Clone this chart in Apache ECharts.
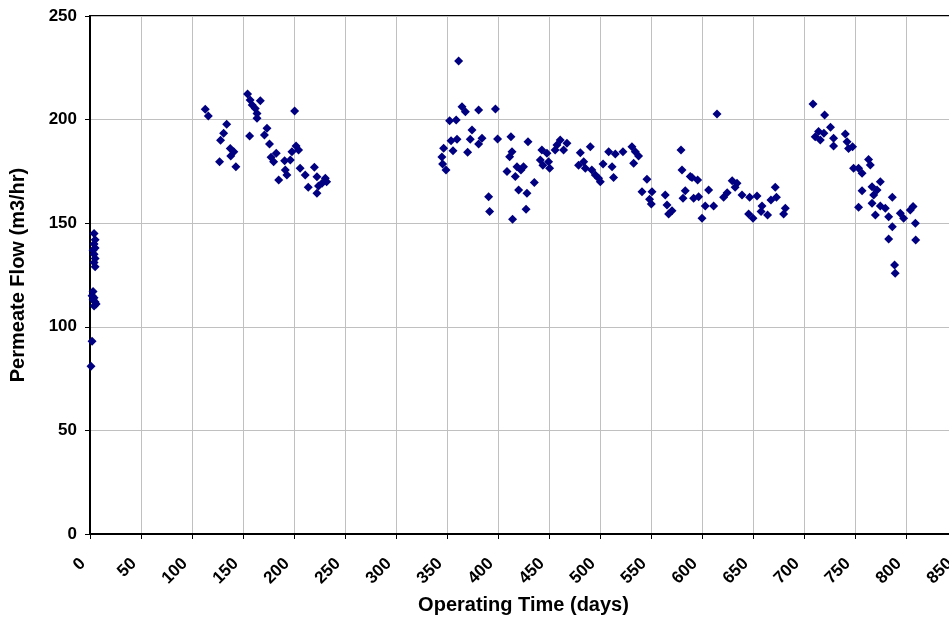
<!DOCTYPE html>
<html>
<head>
<meta charset="utf-8">
<script src="https://cdn.jsdelivr.net/npm/echarts@6/dist/echarts.min.js"></script>
<style>html,body{margin:0;padding:0;background:#fff;}#c{width:949px;height:621px;}</style>
</head>
<body>
<div id="c"></div>
<script>
// Operating time (days) and permeate flow (m3/hr) pairs, grouped by operating period
const period1Days = [4,5,4,5,3,4,5,4,5,3,2,4,3,5,6,4,2,1];
const period1Flow = [145,142,140,138,137,135,133,131,129,117,115,114,113,112,111,110,93,81];

const period2Days = [113,116,134,131,128,137.5,141,138,127,143,154.5,157,167,159,162,163.7,163.7,200.6,156.5,173.5,171,176,182.6,177.5,180,190.8,202,204.5,198,196.4,191.5,193,185,206,211,220,222.5,230.7,227.5,214,222.5,232,224];
const period2Flow = [205,201.7,197.7,193.4,190,186,184.5,182.4,179.7,177.3,212.4,209.5,209.1,207,205.4,203,200.6,204.1,192.1,195.8,192.6,188.2,183.7,181.8,179.7,180.2,187.3,185.3,184.5,180.5,175.7,173.3,170.8,176.5,173.3,177,172.4,171.7,169.3,167.3,164.4,170,168];

const period3Days = [361.4,364.7,368,381,352.6,359,374.5,372.8,359.8,354,346.7,355.9,370.2,381,345,345.7,349,384.3,390.8,391.8,397.5,399.6,412.7,429.4,413.7,411.4,408.8,418.6,422.5,425,417,420.2,428.4,435.6,427.5,414.3,443,448,441.5,444,450.6,449.6,457.8,461,464.3,456,467.6,480.7,490.5,484,479,485.6,492,495.4,498.6,500.3,503,511.8,513.3,508.5,515,522.5,531.3,534.6,537.8,533,546,541.2,551,548.6,550.3,564,565.7,570.6,567.3,579.4,580.4,588.5,595.7,583.6,581.4,591.8,596.7,603.2,600,606.5,614.7,590.2,611.4,621.2,624.7,629.6,634.3,632.5,639.2,646.7,653.9,645.7,650,658.8,657.9,664.3,667.6,673,671.8,681.7,680];
const period3Flow = [228.3,206.2,203.8,204.6,199.5,199.8,195,190.5,190.5,189.8,186.2,185,184.2,188.2,182,178.6,175.7,191,162.8,155.6,205.1,190.6,191.7,189.3,184.5,182.1,174.9,177.3,175.7,177.3,172.5,166,164.4,169.6,156.7,151.9,185.3,183.7,180.5,178,176.5,179.7,187.7,190.2,185.3,185.3,188.6,184,186.9,179.7,178,176.5,175.7,173.3,171.7,170,178.6,177.3,172.1,184.5,183.4,184.5,186.9,184.5,182.4,178.9,171.2,165.2,165.2,161.5,159.3,163.6,158.8,156,154.4,185.3,175.7,172.5,170.8,165.7,162,162,162.8,158.3,152.4,166,202.7,172.1,158.3,162.5,164.7,170.5,169.3,167.3,163.6,162.5,163.1,154.4,152.4,158.3,155.6,154,161.2,162.5,167.3,157.2,154.4];

const period4Days = [708.8,720.2,714.3,711,716,719.5,726,729,729,740.5,742.2,743.7,747.6,763.3,765,748.6,753.5,756.9,774.8,766.7,771.6,768.3,756.9,786.6,766.7,753.5,774.8,779.7,770,783,786.6,794.4,797.7,806.9,804.2,809.2,809.5,783,788.8,789.4];
const period4Flow = [207.5,202.2,194.2,191.7,190.2,193.4,196.3,191,187.3,193,189.3,186.1,186.9,180.8,178.1,176.5,176.5,174.1,170,167.6,166,163.6,165.7,162.5,159.6,157.7,158.3,157.2,154,153.1,148.3,154.8,152.4,158,156.4,150,141.9,142.4,129.8,125.8];

const xTicks = {min: 0, max: 850, interval: 50};
const yTicks = {min: 0, max: 250, interval: 50};

function pairs(d, f) { return d.map((v, i) => [v, f[i]]); }
const allData = [].concat(
  pairs(period1Days, period1Flow),
  pairs(period2Days, period2Flow),
  pairs(period3Days, period3Flow),
  pairs(period4Days, period4Flow)
);

const chart = echarts.init(document.getElementById('c'), null, {renderer: 'canvas'});
const font = 'Liberation Sans, Arial, sans-serif';
chart.setOption({
  animation: false,
  backgroundColor: '#ffffff',
  grid: {left: 90, top: 16, right: -8, bottom: 87, show: true, borderColor: '#000', borderWidth: 2,
         containLabel: false, outerBoundsMode: 'none'},
  xAxis: {
    type: 'value', min: xTicks.min, max: xTicks.max, interval: xTicks.interval,
    name: 'Operating Time (days)', nameLocation: 'middle', nameGap: 61,
    nameTextStyle: {fontFamily: font, fontWeight: 'bold', fontSize: 20, color: '#000'},
    axisLine: {show: true, onZero: false, lineStyle: {color: '#000', width: 2}},
    axisTick: {show: true, inside: false, length: 5, lineStyle: {color: '#000', width: 1}},
    axisLabel: {rotate: 45, margin: 20, padding: [0, 10, 0, 0], fontFamily: font, fontWeight: 'bold', fontSize: 17, color: '#000', showMaxLabel: true, hideOverlap: false},
    splitLine: {show: true, lineStyle: {color: '#c0c0c0', width: 1}}
  },
  yAxis: {
    type: 'value', min: yTicks.min, max: yTicks.max, interval: yTicks.interval,
    name: 'Permeate Flow (m3/hr)', nameLocation: 'middle', nameGap: 62, nameRotate: 90,
    nameTextStyle: {fontFamily: font, fontWeight: 'bold', fontSize: 20, color: '#000'},
    axisLine: {show: true, onZero: false, lineStyle: {color: '#000', width: 2}},
    axisTick: {show: true, inside: false, length: 5, lineStyle: {color: '#000', width: 1}},
    axisLabel: {margin: 13, fontFamily: font, fontWeight: 'bold', fontSize: 17, color: '#000'},
    splitLine: {show: true, lineStyle: {color: '#c0c0c0', width: 1}}
  },
  series: [{
    type: 'scatter',
    data: allData,
    symbol: 'diamond',
    symbolSize: 9,
    itemStyle: {color: '#000080', opacity: 1}
  }]
});
</script>
</body>
</html>
